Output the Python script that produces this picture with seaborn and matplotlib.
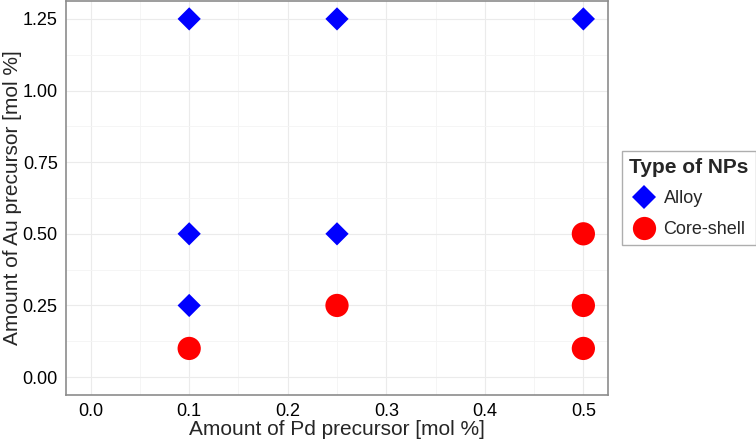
import pandas as pd
import numpy as np
import matplotlib.pyplot as plt
import seaborn as sns
from matplotlib.ticker import MultipleLocator
from matplotlib.lines import Line2D

# data
pd_amount = [0.1, 0.25, 0.5, 0.1, 0.25, 0.1, 0.1, 0.25, 0.5, 0.5, 0.5]
au_amount = [1.25, 1.25, 1.25, 0.5, 0.5, 0.25, 0.1, 0.25, 0.5, 0.25, 0.1]
np_type = ["Alloy"] * 6 + ["Core-shell"] * 5
x_ticks = [0.0, 0.1, 0.2, 0.3, 0.4, 0.5]
y_ticks = [0.0, 0.25, 0.5, 0.75, 1.0, 1.25]

df = pd.DataFrame({"pd": pd_amount, "au": au_amount, "type": np_type})

sns.set_style("white")
plt.rcParams['font.family'] = ['Liberation Sans', 'DejaVu Sans']

fig = plt.figure(figsize=(7.56, 4.43), dpi=100)
# panel: x 66..608 px, y 1..395 px
ax = fig.add_axes([66 / 756, 1 - 395 / 443, (608 - 66) / 756, 394 / 443])

palette = {"Alloy": "#0000ff", "Core-shell": "#ff0000"}
markers = {"Alloy": "D", "Core-shell": "o"}
sizes = {"Alloy": 140, "Core-shell": 280}

for t in ["Alloy", "Core-shell"]:
    sub = df[df["type"] == t]
    sns.scatterplot(data=sub, x="pd", y="au", color=palette[t], marker=markers[t],
                    s=sizes[t], edgecolor="none", ax=ax, legend=False, zorder=3)

# ggplot-style 5% expansion
ax.set_xlim(-0.025, 0.525)
ax.set_ylim(-0.0625, 1.3125)
ax.xaxis.set_minor_locator(MultipleLocator(0.05))
ax.yaxis.set_minor_locator(MultipleLocator(0.125))
ax.set_xticks(x_ticks)
ax.set_xticklabels([f"{v:.1f}" for v in x_ticks])
ax.set_yticks(y_ticks)
ax.set_yticklabels([f"{v:.2f}" for v in y_ticks])

ax.grid(which="major", color="#ebebeb", linewidth=0.8)
ax.grid(which="minor", color="#f4f4f4", linewidth=0.6)
ax.set_axisbelow(True)
for s in ax.spines.values():
    s.set_color("#8c8c8c")
    s.set_linewidth(1.2)

ax.tick_params(axis="both", which="both", length=0, labelsize=13, pad=6, colors="black")
ax.set_xlabel("Amount of Pd precursor [mol %]", fontsize=15, labelpad=0)
ax.set_ylabel("Amount of Au precursor [mol %]", fontsize=15, labelpad=0)

handles = [Line2D([], [], linestyle="none", marker=markers[t], color=palette[t],
                  markeredgewidth=0, markersize=np.sqrt(sizes[t]))
           for t in ["Alloy", "Core-shell"]]
leg = fig.legend(handles, ["Alloy", "Core-shell"], title="Type of NPs", loc="center left",
                 bbox_to_anchor=(622 / 756, 1 - 198 / 443), frameon=True,
                 fancybox=False, edgecolor="#9a9a9a", fontsize=13,
                 title_fontproperties={"weight": "bold", "size": 15},
                 handletextpad=0.3, handlelength=1.6, borderpad=0.4, labelspacing=0.75,
                 borderaxespad=0, alignment="left")
leg.get_frame().set_linewidth(1.0)

fig.savefig("out.png", dpi=100)
